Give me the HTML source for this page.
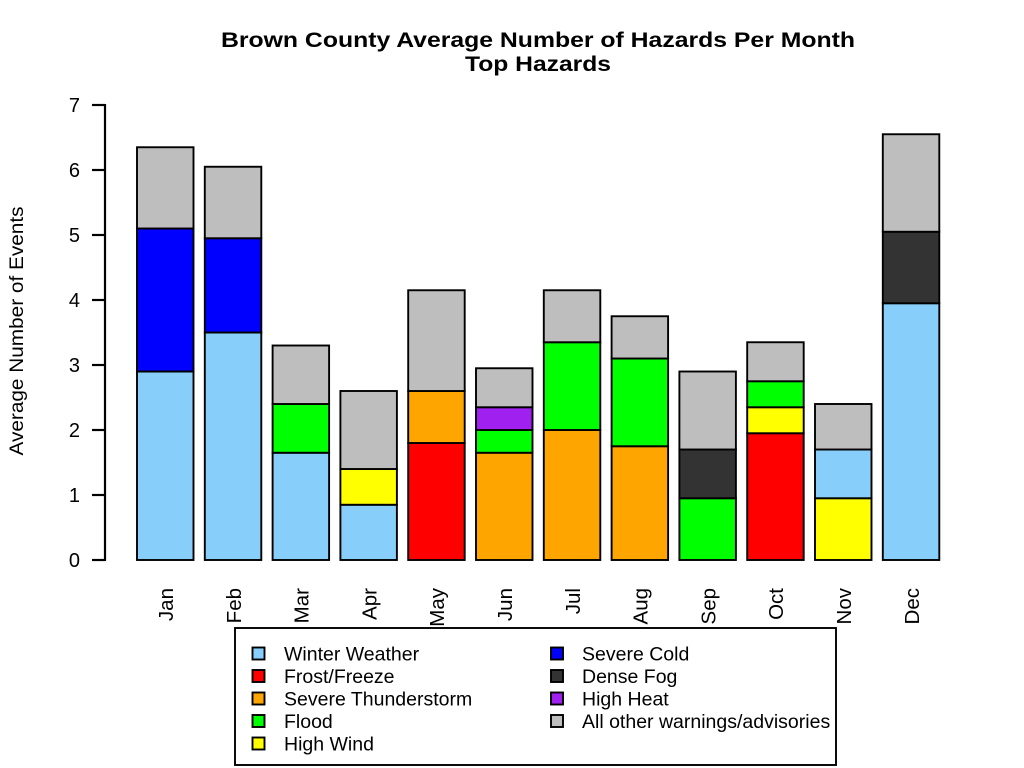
<!DOCTYPE html>
<html><head><meta charset="utf-8"><style>
html,body{margin:0;padding:0;background:#fff;}
svg{display:block;}
text{font-family:"Liberation Sans",Arial,sans-serif;fill:#000;}
</style></head><body>
<svg width="1024" height="768" viewBox="0 0 1024 768" xmlns="http://www.w3.org/2000/svg">
<rect width="1024" height="768" fill="#fff"/>
<!-- Title -->
<text x="538" y="47" font-size="21" font-weight="bold" text-anchor="middle" textLength="634" lengthAdjust="spacingAndGlyphs">Brown County Average Number of Hazards Per Month</text>
<text x="538" y="71" font-size="21" font-weight="bold" text-anchor="middle" textLength="146" lengthAdjust="spacingAndGlyphs">Top Hazards</text>

<!-- Y axis -->
<g stroke="#000" stroke-width="2.2" fill="none">
<line x1="105" y1="104" x2="105" y2="561"/>
<line x1="92" y1="560" x2="105" y2="560"/>
<line x1="92" y1="495" x2="105" y2="495"/>
<line x1="92" y1="430" x2="105" y2="430"/>
<line x1="92" y1="365" x2="105" y2="365"/>
<line x1="92" y1="300" x2="105" y2="300"/>
<line x1="92" y1="235" x2="105" y2="235"/>
<line x1="92" y1="170" x2="105" y2="170"/>
<line x1="92" y1="105" x2="105" y2="105"/>
</g>
<g font-size="20" text-anchor="end">
<text x="80" y="567">0</text>
<text x="80" y="502">1</text>
<text x="80" y="437">2</text>
<text x="80" y="372">3</text>
<text x="80" y="307">4</text>
<text x="80" y="242">5</text>
<text x="80" y="177">6</text>
<text x="80" y="112">7</text>
</g>
<text transform="translate(23,331) rotate(-90)" font-size="19" text-anchor="middle" textLength="249" lengthAdjust="spacingAndGlyphs">Average Number of Events</text>

<!-- Bars -->
<g stroke="#000" stroke-width="1.9">
<!-- Jan -->
<rect x="137" y="371.5" width="56.5" height="188.5" fill="#87CEFA"/>
<rect x="137" y="228.5" width="56.5" height="143" fill="#0000FF"/>
<rect x="137" y="147.25" width="56.5" height="81.25" fill="#BEBEBE"/>
<!-- Feb -->
<rect x="204.8" y="332.5" width="56.5" height="227.5" fill="#87CEFA"/>
<rect x="204.8" y="238.25" width="56.5" height="94.25" fill="#0000FF"/>
<rect x="204.8" y="166.75" width="56.5" height="71.5" fill="#BEBEBE"/>
<!-- Mar -->
<rect x="272.6" y="452.75" width="56.5" height="107.25" fill="#87CEFA"/>
<rect x="272.6" y="404" width="56.5" height="48.75" fill="#00FF00"/>
<rect x="272.6" y="345.5" width="56.5" height="58.5" fill="#BEBEBE"/>
<!-- Apr -->
<rect x="340.4" y="504.75" width="56.5" height="55.25" fill="#87CEFA"/>
<rect x="340.4" y="469" width="56.5" height="35.75" fill="#FFFF00"/>
<rect x="340.4" y="391" width="56.5" height="78" fill="#BEBEBE"/>
<!-- May -->
<rect x="408.2" y="443" width="56.5" height="117" fill="#FF0000"/>
<rect x="408.2" y="391" width="56.5" height="52" fill="#FFA500"/>
<rect x="408.2" y="290.25" width="56.5" height="100.75" fill="#BEBEBE"/>
<!-- Jun -->
<rect x="476" y="452.75" width="56.5" height="107.25" fill="#FFA500"/>
<rect x="476" y="430" width="56.5" height="22.75" fill="#00FF00"/>
<rect x="476" y="407.25" width="56.5" height="22.75" fill="#A020F0"/>
<rect x="476" y="368.25" width="56.5" height="39" fill="#BEBEBE"/>
<!-- Jul -->
<rect x="543.8" y="430" width="56.5" height="130" fill="#FFA500"/>
<rect x="543.8" y="342.25" width="56.5" height="87.75" fill="#00FF00"/>
<rect x="543.8" y="290.25" width="56.5" height="52" fill="#BEBEBE"/>
<!-- Aug -->
<rect x="611.6" y="446.25" width="56.5" height="113.75" fill="#FFA500"/>
<rect x="611.6" y="358.5" width="56.5" height="87.75" fill="#00FF00"/>
<rect x="611.6" y="316.25" width="56.5" height="42.25" fill="#BEBEBE"/>
<!-- Sep -->
<rect x="679.4" y="498.25" width="56.5" height="61.75" fill="#00FF00"/>
<rect x="679.4" y="449.5" width="56.5" height="48.75" fill="#333333"/>
<rect x="679.4" y="371.5" width="56.5" height="78" fill="#BEBEBE"/>
<!-- Oct -->
<rect x="747.2" y="433.25" width="56.5" height="126.75" fill="#FF0000"/>
<rect x="747.2" y="407.25" width="56.5" height="26" fill="#FFFF00"/>
<rect x="747.2" y="381.25" width="56.5" height="26" fill="#00FF00"/>
<rect x="747.2" y="342.25" width="56.5" height="39" fill="#BEBEBE"/>
<!-- Nov -->
<rect x="815" y="498.25" width="56.5" height="61.75" fill="#FFFF00"/>
<rect x="815" y="449.5" width="56.5" height="48.75" fill="#87CEFA"/>
<rect x="815" y="404" width="56.5" height="45.5" fill="#BEBEBE"/>
<!-- Dec -->
<rect x="882.8" y="303.25" width="56.5" height="256.75" fill="#87CEFA"/>
<rect x="882.8" y="231.75" width="56.5" height="71.5" fill="#333333"/>
<rect x="882.8" y="134.25" width="56.5" height="97.5" fill="#BEBEBE"/>
</g>

<!-- Month labels -->
<g font-size="20.5" text-anchor="end">
<text transform="translate(173,588) rotate(-90)">Jan</text>
<text transform="translate(240.8,588) rotate(-90)">Feb</text>
<text transform="translate(308.6,588) rotate(-90)">Mar</text>
<text transform="translate(376.4,588) rotate(-90)">Apr</text>
<text transform="translate(444.2,588) rotate(-90)">May</text>
<text transform="translate(512,588) rotate(-90)">Jun</text>
<text transform="translate(579.8,588) rotate(-90)">Jul</text>
<text transform="translate(647.6,588) rotate(-90)">Aug</text>
<text transform="translate(715.4,588) rotate(-90)">Sep</text>
<text transform="translate(783.2,588) rotate(-90)">Oct</text>
<text transform="translate(851,588) rotate(-90)">Nov</text>
<text transform="translate(918.8,588) rotate(-90)">Dec</text>
</g>

<!-- Legend -->
<rect x="235" y="628" width="601" height="137" fill="#fff" stroke="#000" stroke-width="1.9"/>
<g stroke="#000" stroke-width="1.9">
<rect x="252.5" y="647.5" width="12" height="12" fill="#87CEFA"/>
<rect x="252.5" y="670" width="12" height="12" fill="#FF0000"/>
<rect x="252.5" y="692.5" width="12" height="12" fill="#FFA500"/>
<rect x="252.5" y="715" width="12" height="12" fill="#00FF00"/>
<rect x="252.5" y="737.5" width="12" height="12" fill="#FFFF00"/>
<rect x="551" y="647.5" width="12" height="12" fill="#0000FF"/>
<rect x="551" y="670" width="12" height="12" fill="#333333"/>
<rect x="551" y="692.5" width="12" height="12" fill="#A020F0"/>
<rect x="551" y="715" width="12" height="12" fill="#BEBEBE"/>
</g>
<g font-size="19.5">
<text x="284" y="660.5">Winter Weather</text>
<text x="284" y="683">Frost/Freeze</text>
<text x="284" y="705.5">Severe Thunderstorm</text>
<text x="284" y="728">Flood</text>
<text x="284" y="750.5">High Wind</text>
<text x="582" y="660.5">Severe Cold</text>
<text x="582" y="683">Dense Fog</text>
<text x="582" y="705.5">High Heat</text>
<text x="582" y="728">All other warnings/advisories</text>
</g>
</svg>
</body></html>
